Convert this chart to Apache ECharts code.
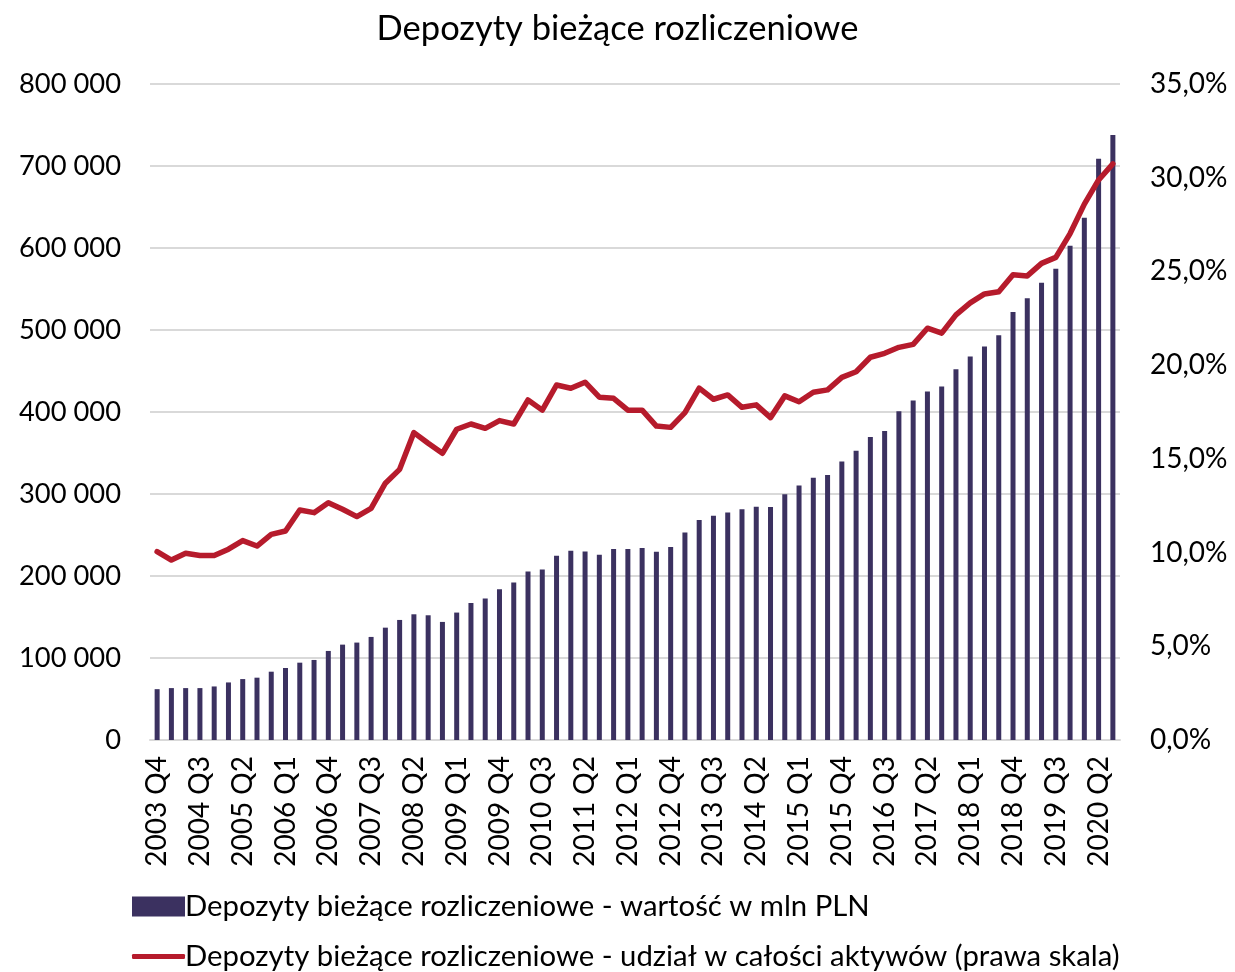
<!DOCTYPE html>
<html><head><meta charset="utf-8">
<script src="https://cdn.jsdelivr.net/npm/echarts@6/dist/echarts.min.js"></script>
<style>html,body{margin:0;padding:0;background:#fff}#c{width:1235px;height:972px}</style>
</head><body><div id="c"></div>
<script>
const categories = [
  "2003 Q4",
  "2004 Q1","2004 Q2","2004 Q3","2004 Q4",
  "2005 Q1","2005 Q2","2005 Q3","2005 Q4",
  "2006 Q1","2006 Q2","2006 Q3","2006 Q4",
  "2007 Q1","2007 Q2","2007 Q3","2007 Q4",
  "2008 Q1","2008 Q2","2008 Q3","2008 Q4",
  "2009 Q1","2009 Q2","2009 Q3","2009 Q4",
  "2010 Q1","2010 Q2","2010 Q3","2010 Q4",
  "2011 Q1","2011 Q2","2011 Q3","2011 Q4",
  "2012 Q1","2012 Q2","2012 Q3","2012 Q4",
  "2013 Q1","2013 Q2","2013 Q3","2013 Q4",
  "2014 Q1","2014 Q2","2014 Q3","2014 Q4",
  "2015 Q1","2015 Q2","2015 Q3","2015 Q4",
  "2016 Q1","2016 Q2","2016 Q3","2016 Q4",
  "2017 Q1","2017 Q2","2017 Q3","2017 Q4",
  "2018 Q1","2018 Q2","2018 Q3","2018 Q4",
  "2019 Q1","2019 Q2","2019 Q3","2019 Q4",
  "2020 Q1","2020 Q2","2020 Q3"
];
// Depozyty bieżące rozliczeniowe - wartość w mln PLN
const depositValues = [
  62000, 63300, 63300, 63300, 65300, 70200, 74300, 76000, 83300, 87800,
  94300, 97600, 108600, 116300, 118800, 125700, 137000, 146400, 153300, 152100,
  144000, 155400, 167200, 172500, 183900, 192000, 205500, 208000, 224700, 230800,
  230000, 225900, 232800, 232800, 234000, 229600, 235300, 253200, 268300, 273600,
  277300, 281300, 284600, 284200, 299700, 310300, 319700, 323300, 339700, 352700,
  369400, 376700, 400800, 414000, 425000, 431000, 452000, 467600, 480000, 493600,
  522000, 538800, 557500, 574700, 602600, 637000, 708700, 737700
];
// udział w całości aktywów (%)
const shareValues = [
  10.05, 9.6, 9.96, 9.84, 9.84, 10.18, 10.64, 10.35, 10.97, 11.15,
  12.27, 12.13, 12.66, 12.31, 11.92, 12.36, 13.7, 14.44, 16.4, 15.83,
  15.3, 16.58, 16.86, 16.63, 17.04, 16.86, 18.14, 17.6, 18.94, 18.77,
  19.09, 18.29, 18.23, 17.6, 17.6, 16.75, 16.68, 17.47, 18.77, 18.18,
  18.41, 17.75, 17.88, 17.2, 18.36, 18.05, 18.55, 18.68, 19.35, 19.65,
  20.42, 20.63, 20.95, 21.11, 21.97, 21.71, 22.68, 23.32, 23.8, 23.92,
  24.82, 24.76, 25.43, 25.75, 27.02, 28.59, 29.88, 30.74
];
const seriesNames = [
  "Depozyty bieżące rozliczeniowe - wartość w mln PLN",
  "Depozyty bieżące rozliczeniowe - udział w całości aktywów (prawa skala)"
];
const titleText = "Depozyty bieżące rozliczeniowe";

const FONT = "Lato";
const BAR_COLOR = '#3b3160';
const LINE_COLOR = '#b61b2c';
const chart = echarts.init(document.getElementById('c'), null, {renderer: 'canvas'});
chart.setOption({
  animation: false,
  backgroundColor: '#ffffff',
  textStyle: {fontFamily: FONT},
  title: {
    text: titleText, left: 'center', top: 6,
    textStyle: {fontFamily: FONT, fontSize: 34.5, fontWeight: 'normal', color: '#000'}
  },
  grid: {left: 150, right: 115, top: 84, bottom: 232, containLabel: false},
  legend: [
    {
      orient: 'horizontal', left: 127, top: 887,
      itemWidth: 53, itemHeight: 20,
      textStyle: {fontFamily: FONT, fontSize: 29.3, color: '#000', padding: [0,0,0,-5]},
      data: [{name: seriesNames[0], icon: 'rect'}]
    },
    {
      orient: 'horizontal', left: 127, top: 937,
      itemWidth: 53, itemHeight: 5,
      textStyle: {fontFamily: FONT, fontSize: 29.3, color: '#000', padding: [0,0,0,-5]},
      data: [{name: seriesNames[1], icon: 'roundRect'}]
    }
  ],
  xAxis: {
    type: 'category', data: categories, boundaryGap: true,
    axisTick: {show: false},
    axisLine: {lineStyle: {color: '#d9d9d9', width: 2}},
    axisLabel: {rotate: 90, interval: 2, fontSize: 28, color: '#000', margin: 16, fontFamily: FONT}
  },
  yAxis: [
    {
      type: 'value', min: 0, max: 800000, interval: 100000,
      axisLine: {show: false}, axisTick: {show: false},
      splitLine: {lineStyle: {color: '#d9d9d9', width: 2}},
      axisLabel: {
        fontSize: 27.3, color: '#000', margin: 29, fontFamily: FONT,
        formatter: v => String(v).replace(/\B(?=(\d{3})+(?!\d))/g, ' ')
      }
    },
    {
      type: 'value', min: 0, max: 35, interval: 5,
      axisLine: {show: false}, axisTick: {show: false},
      splitLine: {show: false},
      axisLabel: {
        fontSize: 28, color: '#000', margin: 30, fontFamily: FONT,
        formatter: v => v.toFixed(1).replace('.', ',') + '%'
      }
    }
  ],
  series: [
    {
      name: seriesNames[0], type: 'bar', data: depositValues, yAxisIndex: 0,
      barWidth: 5, itemStyle: {color: BAR_COLOR}
    },
    {
      name: seriesNames[1], type: 'line', data: shareValues, yAxisIndex: 1,
      symbol: 'none', lineStyle: {color: LINE_COLOR, width: 5.5, join: 'round', cap: 'round'},
      itemStyle: {color: LINE_COLOR}
    }
  ]
});
</script>
</body></html>
